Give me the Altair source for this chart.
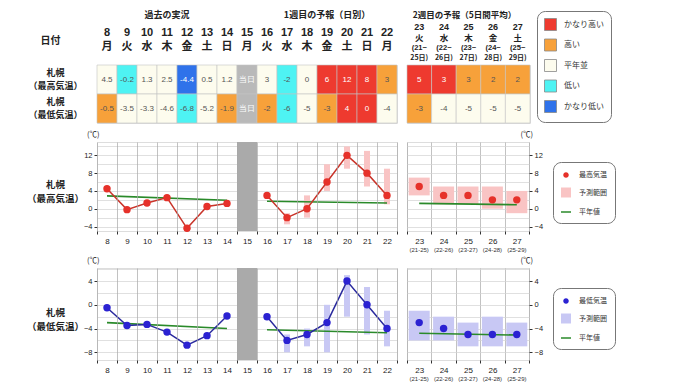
import altair as alt
import pandas as pd

FONT = "Noto Sans CJK JP"
LAT = "Liberation Sans"

# ---------------- data ----------------
days1 = ["8", "9", "10", "11", "12", "13", "14", "15", "16", "17", "18", "19", "20", "21", "22"]
wd1 = ["月", "火", "水", "木", "金", "土", "日", "月", "火", "水", "木", "金", "土", "日", "月"]
days2 = ["23", "24", "25", "26", "27"]
wd2 = ["火", "水", "木", "金", "土"]
per2_a = ["(21~", "(22~", "(23~", "(24~", "(25~"]
per2_b = ["25日)", "26日)", "27日)", "28日)", "29日)"]
per2_short = ["(21-25)", "(22-26)", "(23-27)", "(24-28)", "(25-29)"]

row_labels = ["札幌|（最高気温）", "札幌|（最低気温）"]

tbl1_max_txt = ["4.5", "-0.2", "1.3", "2.5", "-4.4", "0.5", "1.2", "当日", "3", "-2", "0", "6", "12", "8", "3"]
tbl1_max_cat = ["平年並", "低い", "平年並", "平年並", "かなり低い", "平年並", "平年並", "当日",
                "平年並", "低い", "平年並", "かなり高い", "かなり高い", "かなり高い", "高い"]
tbl1_min_txt = ["-0.5", "-3.5", "-3.3", "-4.6", "-6.8", "-5.2", "-1.9", "当日", "-2", "-6", "-5", "-3", "4", "0", "-4"]
tbl1_min_cat = ["高い", "平年並", "平年並", "平年並", "低い", "平年並", "高い", "当日",
                "高い", "低い", "平年並", "高い", "かなり高い", "かなり高い", "平年並"]
tbl2_max_txt = ["5", "3", "3", "2", "2"]
tbl2_max_cat = ["かなり高い", "かなり高い", "高い", "高い", "高い"]
tbl2_min_txt = ["-3", "-4", "-5", "-5", "-5"]
tbl2_min_cat = ["高い", "平年並", "平年並", "平年並", "平年並"]

cat_domain = ["かなり高い", "高い", "平年並", "低い", "かなり低い", "当日"]
cat_range = ["#ee3a2f", "#f7a13a", "#fdfcee", "#4ef3f3", "#2f72ea", "#b9b9b9"]
cat_text = {"かなり高い": "#ffffff", "かなり低い": "#ffffff", "当日": "#ffffff"}

obs_days = ["8", "9", "10", "11", "12", "13", "14"]
fc_days = ["16", "17", "18", "19", "20", "21", "22"]
nrm_days1 = ["8", "14", "16", "22"]
nrm_seg1 = ["a", "a", "b", "b"]
nrm_days2 = ["23", "27"]

max_obs = [4.5, -0.2, 1.3, 2.5, -4.4, 0.5, 1.2]
max_fc = [3, -2, 0, 6, 12, 8, 3]
max_lo = [2.5, -3.5, -2, 4, 9, 5, 1]
max_hi = [3.5, -1, 3, 10, 14, 13, 9]
max_nrm1 = [2.9, 1.9, 1.7, 1.3]
max_w2 = [5, 3, 3, 2, 2]
max_w2_lo = [3, 1, 1, 0, -1]
max_w2_hi = [7, 5, 5, 5, 4]
max_nrm2 = [1.2, 0.9]

min_obs = [-0.5, -3.5, -3.3, -4.6, -6.8, -5.2, -1.9]
min_fc = [-2, -6, -5, -3, 4, 0, -4]
min_lo = [-2.5, -8, -7, -8, -2, -5, -7]
min_hi = [-1.5, -5, -4, 0, 5, 3, -1]
min_nrm1 = [-3.0, -4.0, -4.2, -4.7]
min_w2 = [-3, -4, -5, -5, -5]
min_w2_lo = [-6, -6, -7, -7, -7]
min_w2_hi = [-1, -2, -3, -2, -3]
min_nrm2 = [-4.8, -5.1]

max_ticks = [-4, -2, 0, 2, 4, 6, 8, 10, 12, 14]
min_ticks = [-8, -6, -4, -2, 0, 2, 4, 6]

GREEN = "#2a8a2a"

# ---------------- table ----------------
cols1 = [f"{d}|{w}" for d, w in zip(days1, wd1)]
cols2 = [f"{d}|{w}" for d, w in zip(days2, wd2)]


def table_df(cols, mx_t, mx_c, mn_t, mn_c):
    cats = list(mx_c) + list(mn_c)
    return pd.DataFrame({
        "col": list(cols) * 2,
        "row": [row_labels[0]] * len(cols) + [row_labels[1]] * len(cols),
        "txt": list(mx_t) + list(mn_t),
        "cat": cats,
        "tc": [cat_text.get(c, "#555555") for c in cats],
    })


def table_chart(df, cols, width, left, legend, header_lines):
    x = alt.X("col:N", sort=cols, scale=alt.Scale(domain=cols, paddingInner=0, paddingOuter=0), axis=None)
    if left:
        yaxis = alt.Axis(title="日付", titleAngle=0, titleX=-47, titleY=-25, titleAlign="center",
                         titleBaseline="middle", titleFontSize=10, titleFontWeight="bold", titleColor="#222",
                         titleFont=FONT,
                         labelExpr="split(datum.value, '|')", labelAlign="center", labelBaseline="middle",
                         labelOffset=-6.5, labelPadding=42, labelFontSize=9, labelFontWeight="bold",
                         labelLineHeight=13, labelColor="#222", labelFont=FONT,
                         domain=False, ticks=False, tickSize=0)
    else:
        yaxis = None
    y = alt.Y("row:N", sort=row_labels, scale=alt.Scale(domain=row_labels, paddingInner=0, paddingOuter=0),
              axis=yaxis)
    base = alt.Chart(df).encode(x=x, y=y)
    rect = base.mark_rect(stroke="#c4c4c4", strokeWidth=0.6).encode(
        color=alt.Color("cat:N", scale=alt.Scale(domain=cat_domain, range=cat_range), legend=legend))
    txt = base.mark_text(fontSize=8, font=LAT).encode(text="txt:N", color=alt.Color("tc:N", scale=None))
    layers = [rect, txt]
    for cl, texts, ypos, size, dx, fnt in header_lines:
        hdf = pd.DataFrame({"col": cl, "t": texts})
        layers.append(alt.Chart(hdf).mark_text(fontSize=size, fontWeight="bold", color="#222", dx=dx,
                                               font=fnt).encode(
            x=alt.X("col:N", sort=cols), y=alt.value(ypos), text="t:N"))
    return alt.layer(*layers).properties(width=width, height=58)


tbl_legend = alt.Legend(orient="none", legendX=130, legendY=-54, title=None, values=cat_domain[:5],
                        symbolType="square", symbolSize=144, symbolStrokeColor="#888", symbolStrokeWidth=0.8,
                        symbolOpacity=1, strokeColor="#777", cornerRadius=8, fillColor="white", padding=7,
                        rowPadding=3.5, labelFontSize=8, labelOffset=7, labelColor="#333", labelFont=FONT)

t1 = table_chart(table_df(cols1, tbl1_max_txt, tbl1_max_cat, tbl1_min_txt, tbl1_min_cat), cols1, 300, True, None,
                 [([cols1[3], cols1[11]], ["過去の実況", "1週目の予報（日別）"], -49.8, 9, 0, FONT),
                  (cols1, days1, -32, 11, 0, LAT),
                  (cols1, wd1, -18, 11, 0, FONT)])
t2 = table_chart(table_df(cols2, tbl2_max_txt, tbl2_max_cat, tbl2_min_txt, tbl2_min_cat), cols2, 123, False,
                 tbl_legend,
                 [([cols2[2]], ["2週目の予報（5日間平均）"], -49.8, 8.5, -4, FONT),
                  (cols2, days2, -38.4, 9, 0, LAT),
                  (cols2, wd2, -27.1, 8.5, 0, FONT),
                  (cols2, per2_a, -16.6, 7.5, 0, LAT),
                  (cols2, per2_b, -7.2, 7, 0, FONT)])


# ---------------- charts ----------------
def yaxis(vals, orient, title=None, ty=0):
    kw = dict(values=vals, orient=orient,
              labelExpr="datum.value % 4 == 0 ? datum.label : ''",
              tickOpacity={"condition": {"test": "datum.value % 4 != 0", "value": 0}, "value": 1},
              grid=True, gridColor="#d2d2d2", gridWidth=0.7, domain=False, tickSize=3, tickColor="#333",
              labelFontSize=7.5, labelPadding=2, labelColor="#222", labelFont=LAT)
    if title is not None:
        kw.update(title=title, titleAngle=0, titleX=-42, titleY=ty, titleAlign="center",
                  titleBaseline="middle", titleFontSize=9.5, titleFontWeight="bold", titleLineHeight=14,
                  titleColor="#222", titleFont=FONT)
    else:
        kw.update(title=None)
    return alt.Axis(**kw)


def xaxis():
    return alt.Axis(title=None, labelAngle=0, tickBand="extent", grid=True, gridColor="#a8a8a8", gridWidth=0.7,
                    tickColor="#333", tickSize=3, labelFontSize=8, labelPadding=3, domain=False, labelColor="#222",
                    labelFont=LAT)


def week1_chart(obs, fc, lo, hi, nrm, domain, ticks, h, title, ty, pt, ln, rg):
    xs = alt.Scale(type="band", domain=days1, paddingInner=0, paddingOuter=0)
    ys = alt.Scale(domain=domain, nice=False, zero=False)
    ya = yaxis(ticks, "left", title, ty)
    X = alt.X("day:N", sort=days1, scale=xs, axis=xaxis())
    line_df = pd.DataFrame({"day": obs_days + fc_days, "v": list(obs) + list(fc),
                            "seg": ["a"] * len(obs_days) + ["b"] * len(fc_days)})
    rng_df = pd.DataFrame({"day": fc_days, "lo": lo, "hi": hi})
    nrm_df = pd.DataFrame({"day": nrm_days1, "v": nrm, "seg": nrm_seg1})
    gray = alt.Chart(pd.DataFrame({"day": ["15"]})).mark_rect(color="#aaaaaa").encode(x=X)
    rng = alt.Chart(rng_df).mark_bar(size=6, color=rg).encode(
        x=X, y=alt.Y("lo:Q", scale=ys, axis=ya), y2="hi:Q")
    nl = alt.Chart(nrm_df).mark_line(color=GREEN, strokeWidth=1.6).encode(
        x=X, y=alt.Y("v:Q", scale=ys, axis=ya), detail="seg:N")
    line = alt.Chart(line_df).mark_line(color=ln, strokeWidth=1.5).encode(
        x=X, y=alt.Y("v:Q", scale=ys, axis=ya), detail="seg:N")
    pts = alt.Chart(line_df).mark_circle(color=pt, size=55, opacity=1).encode(
        x=X, y=alt.Y("v:Q", scale=ys, axis=ya))
    return alt.layer(gray, rng, nl, line, pts).properties(
        width=300, height=h,
        title=alt.TitleParams("(℃)", anchor="start", frame="group", fontSize=7.5, fontWeight="normal",
                              offset=4, dx=-10, color="#222"))


circ_path = "M0,-0.55A0.55,0.55,0,1,1,0,0.55A0.55,0.55,0,1,1,0,-0.55Z"
sq_path = "M-1,-1H1V1H-1Z"
line_path = "M-1,-0.15H1V0.15H-1Z"


def week2_chart(v, lo, hi, nrm, domain, ticks, h, pt, rg, names):
    xs = alt.Scale(type="band", domain=days2, paddingInner=0, paddingOuter=0)
    ys = alt.Scale(domain=domain, nice=False, zero=False)
    ya = yaxis(ticks, "right")
    X = alt.X("day:N", sort=days2, scale=xs, axis=xaxis())
    df = pd.DataFrame({"day": days2, "v": v, "lo": lo, "hi": hi})
    nrm_df = pd.DataFrame({"day": nrm_days2, "v": nrm})
    sub = pd.DataFrame({"day": days2, "t": per2_short})
    lg_df = pd.DataFrame({"day": ["23"] * 3, "v": [1000] * 3, "lg": names})
    leg = alt.Legend(orient="none", legendX=146, legendY=20, title=None, symbolSize=100, symbolStrokeWidth=0,
                     symbolOpacity=1, strokeColor="#777", cornerRadius=8, fillColor="white", padding=8,
                     rowPadding=9.5, labelFontSize=7, labelOffset=8, labelColor="#333", labelFont=FONT)
    rng = alt.Chart(df).mark_bar(size=21, color=rg).encode(x=X, y=alt.Y("lo:Q", scale=ys, axis=ya), y2="hi:Q")
    nl = alt.Chart(nrm_df).mark_line(color=GREEN, strokeWidth=1.6).encode(x=X, y=alt.Y("v:Q", scale=ys, axis=ya))
    pts = alt.Chart(df).mark_circle(color=pt, size=55, opacity=1).encode(x=X, y=alt.Y("v:Q", scale=ys, axis=ya))
    subt = alt.Chart(sub).mark_text(fontSize=6, color="#333", font=LAT).encode(
        x=X, y=alt.value(h + 19), text="t:N")
    lg = alt.Chart(lg_df).mark_point(filled=True, clip=True, opacity=1).encode(
        x=X, y=alt.Y("v:Q", scale=ys, axis=ya),
        color=alt.Color("lg:N", scale=alt.Scale(domain=names, range=[pt, rg, GREEN]), legend=leg),
        shape=alt.Shape("lg:N", scale=alt.Scale(domain=names, range=[circ_path, sq_path, line_path]), legend=leg))
    return alt.layer(rng, nl, pts, subt, lg).properties(
        width=122, height=h,
        title=alt.TitleParams("(℃)", anchor="end", frame="group", fontSize=7.5, fontWeight="normal",
                              offset=4, dx=4, color="#222"))


RED_PT, RED_LN, RED_RG = "#e6312a", "#c9342a", "#f9c4c4"
BLU_PT, BLU_LN, BLU_RG = "#2b22d2", "#2a2a9e", "#c8c8f4"

c1max = week1_chart(max_obs, max_fc, max_lo, max_hi, max_nrm1, [-5, 15], max_ticks, 89,
                    ["札幌", "（最高気温）"], 42, RED_PT, RED_LN, RED_RG)
c2max = week2_chart(max_w2, max_w2_lo, max_w2_hi, max_nrm2, [-5, 15], max_ticks, 89, RED_PT, RED_RG,
                    ["最高気温", "予測範囲", "平年値"])
c1min = week1_chart(min_obs, min_fc, min_lo, min_hi, min_nrm1, [-9.3, 6.2], min_ticks, 92,
                    ["札幌", "（最低気温）"], 44, BLU_PT, BLU_LN, BLU_RG)
c2min = week2_chart(min_w2, min_w2_lo, min_w2_hi, min_nrm2, [-9.3, 6.2], min_ticks, 92, BLU_PT, BLU_RG,
                    ["最低気温", "予測範囲", "平年値"])

IND = dict(color="independent", shape="independent")
row1 = alt.hconcat(t1, t2, spacing=10, bounds="flush").resolve_scale(**IND)
row2 = alt.hconcat(c1max, c2max, spacing=10, bounds="flush").resolve_scale(**IND)
row3 = alt.hconcat(c1min, c2min, spacing=10, bounds="flush").resolve_scale(**IND)
inner = alt.vconcat(row2, row3, spacing=2).resolve_scale(**IND)
chart = alt.vconcat(row1, inner, spacing=6).resolve_scale(**IND).properties(
    padding={"left": 17, "top": 2, "right": 4, "bottom": 0}
).configure_view(stroke="#2a2a2a", strokeWidth=1.3).configure_axis(
    titleFont=FONT
).configure_title(font=FONT).configure_text(font=FONT).configure(
    font=FONT, background="white")

chart.save("out.html", embed_options={"renderer": "svg", "actions": False})
